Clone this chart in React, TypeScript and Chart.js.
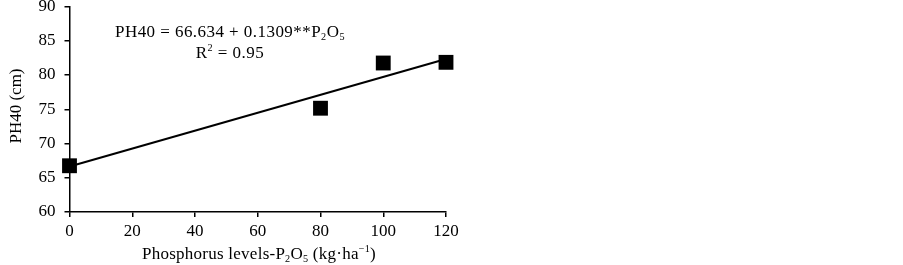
import React, { useEffect, useRef } from "react";
import { Chart, registerables } from "chart.js";

Chart.register(...registerables);

const phosphorusLevels = [0, 80, 100, 120];
const ph40Values = [66.75, 75.15, 81.75, 81.85];
const trendX = [0, 120];
const trendY = [66.634, 82.342];
const xTicks = [0, 20, 40, 60, 80, 100, 120];
const yTicks = [60, 65, 70, 75, 80, 85, 90];
const yTitle = "PH40 (cm)";

const FONT = "'Liberation Serif', 'Times New Roman', serif";
const FS = 17;
const SHIFT = 4; // canvas is offset upward by this many px

type Seg = { t: string; k?: "sub" | "sup" };

function measureRich(ctx: CanvasRenderingContext2D, segs: Seg[], size: number, spacing = 0) {
  let w = 0;
  for (const s of segs) {
    const fs = s.k ? size * 0.6 : size;
    ctx.font = `${fs}px ${FONT}`;
    for (const ch of s.t) w += ctx.measureText(ch).width + spacing;
  }
  return w - spacing;
}

function drawRich(ctx: CanvasRenderingContext2D, segs: Seg[], x: number, y: number, size: number, spacing = 0) {
  let cx = x;
  for (const s of segs) {
    const fs = s.k ? size * 0.6 : size;
    ctx.font = `${fs}px ${FONT}`;
    const dy = s.k === "sub" ? size * 0.2 : s.k === "sup" ? -size * 0.4 : 0;
    for (const ch of s.t) {
      ctx.fillText(ch, cx, y + dy);
      cx += ctx.measureText(ch).width + spacing;
    }
  }
  return cx - x;
}

const textPlugin = {
  id: "richText",
  afterDraw(chart: any) {
    const ctx = chart.ctx as CanvasRenderingContext2D;
    ctx.save();
    ctx.fillStyle = "#000";
    ctx.textBaseline = "alphabetic";
    ctx.textAlign = "left";
    const eq: Seg[] = [{ t: "PH40 = 66.634 + 0.1309**P" }, { t: "2", k: "sub" }, { t: "O" }, { t: "5", k: "sub" }];
    const r2: Seg[] = [{ t: "R" }, { t: "2", k: "sup" }, { t: " = 0.95" }];
    const eqW = measureRich(ctx, eq, FS, 0.45);
    drawRich(ctx, eq, 115, 36.5 + SHIFT, FS, 0.45);
    const r2W = measureRich(ctx, r2, FS, 0.45);
    drawRich(ctx, r2, 115 + eqW / 2 - r2W / 2, 57.5 + SHIFT, FS, 0.45);
    drawRich(ctx, [{ t: "Phosphorus levels-P" }, { t: "2", k: "sub" }, { t: "O" }, { t: "5", k: "sub" }, { t: " (kg·ha" }, { t: "−1", k: "sup" }, { t: ")" }], 142, 259 + SHIFT, FS, 0.25);
    // y title
    ctx.translate(21, 106 + SHIFT);
    ctx.rotate(-Math.PI / 2);
    ctx.font = `${FS}px ${FONT}`;
    ctx.textAlign = "center";
    ctx.fillText(yTitle, 0, 0);
    ctx.restore();
  },
};

export default function App() {
  const ref = useRef<HTMLCanvasElement | null>(null);
  useEffect(() => {
    if (!ref.current) return;
    const chart = new Chart(ref.current, {
      type: "scatter",
      data: {
        datasets: [
          {
            label: "trend",
            data: trendX.map((x, i) => ({ x, y: trendY[i] })),
            showLine: true,
            borderColor: "#000",
            borderWidth: 2,
            pointRadius: 0,
            clip: false,
          },
          {
            label: "PH40",
            data: phosphorusLevels.map((x, i) => ({ x, y: ph40Values[i] })),
            pointStyle: "rect",
            pointRadius: 10.5,
            backgroundColor: "#000",
            borderColor: "#000",
            borderWidth: 0,
            clip: false,
          },
        ],
      },
      options: {
        animation: false,
        responsive: false,
        layout: { padding: { left: 0, top: 0, right: 457, bottom: 0 } },
        plugins: { legend: { display: false }, tooltip: { enabled: false } },
        scales: {
          x: {
            type: "linear",
            min: 0,
            max: 120,
            afterBuildTicks: (s: any) => { s.ticks = xTicks.map((v) => ({ value: v })); },
            afterFit: (s: any) => { s.height = 53; s.paddingLeft = 0; s.paddingRight = 0; },
            border: { color: "#000", width: 1.5 },
            grid: { drawOnChartArea: false, drawTicks: true, tickLength: 5, color: "#000", lineWidth: 1.5 },
            ticks: { color: "#000", font: { family: FONT, size: FS }, padding: 4, maxRotation: 0 },
          },
          y: {
            type: "linear",
            min: 60,
            max: 90,
            afterBuildTicks: (s: any) => { s.ticks = yTicks.map((v) => ({ value: v })); },
            afterFit: (s: any) => { s.width = 69.5; s.paddingTop = 0; s.paddingBottom = 0; },
            border: { color: "#000", width: 1.5 },
            grid: { drawOnChartArea: false, drawTicks: true, tickLength: 5, color: "#000", lineWidth: 1.5 },
            ticks: { color: "#000", font: { family: FONT, size: FS }, padding: 9 },
          },
        },
      },
      plugins: [textPlugin],
    });
    return () => chart.destroy();
  }, []);
  return (
    <div style={{ position: "absolute", left: 0, top: 0, width: 903, height: 265, overflow: "hidden", background: "#fff" }}>
      <canvas ref={ref} width={903} height={265 + SHIFT} style={{ display: "block", position: "absolute", left: 0, top: -SHIFT }} />
    </div>
  );
}
